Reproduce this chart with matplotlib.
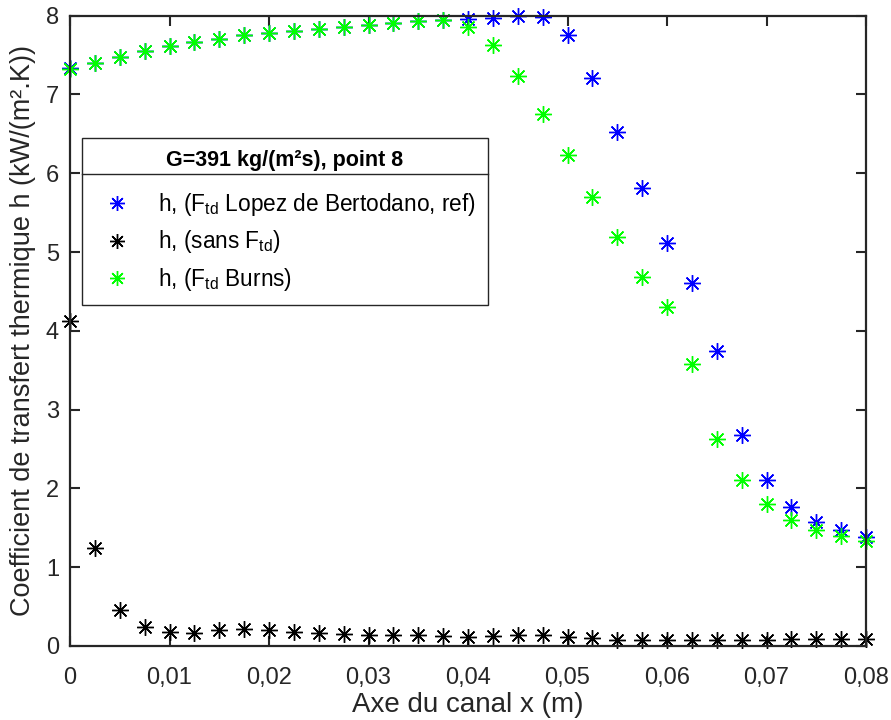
import matplotlib

matplotlib.use("Agg")

import matplotlib.pyplot as plt
from matplotlib.lines import Line2D
from matplotlib.ticker import FuncFormatter

# axial positions along the channel (m)
x = [0.0025 * i for i in range(33)]

# h with F_td Lopez de Bertodano (reference)
h_lopez = [7.33, 7.40, 7.48, 7.55, 7.61, 7.67, 7.71, 7.75, 7.78, 7.81, 7.83,
           7.86, 7.88, 7.91, 7.93, 7.94, 7.96, 7.97, 7.99, 7.98, 7.75, 7.21,
           6.52, 5.81, 5.11, 4.61, 3.74, 2.68, 2.11, 1.77, 1.57, 1.47, 1.38]
# h without F_td
h_sans = [4.12, 1.24, 0.46, 0.24, 0.18, 0.16, 0.20, 0.22, 0.20, 0.18, 0.17,
          0.15, 0.14, 0.14, 0.14, 0.13, 0.12, 0.13, 0.14, 0.14, 0.12, 0.10,
          0.08, 0.08, 0.08, 0.08, 0.08, 0.08, 0.08, 0.09, 0.09, 0.09, 0.09]
# h with F_td Burns
h_burns = [7.32, 7.40, 7.48, 7.55, 7.61, 7.67, 7.71, 7.75, 7.78, 7.81, 7.83,
           7.86, 7.88, 7.91, 7.93, 7.94, 7.86, 7.63, 7.23, 6.75, 6.23, 5.70,
           5.19, 4.68, 4.30, 3.58, 2.63, 2.11, 1.80, 1.60, 1.47, 1.40, 1.33]

xticks = [0, 0.01, 0.02, 0.03, 0.04, 0.05, 0.06, 0.07, 0.08]
yticks = [0, 1, 2, 3, 4, 5, 6, 7, 8]

legend_title = "G=391 kg/(m²s), point 8"
labels = ["h, (F$_{\\mathrm{td}}$ Lopez de Bertodano, ref)",
          "h, (sans F$_{\\mathrm{td}}$)",
          "h, (F$_{\\mathrm{td}}$ Burns)"]

plt.rcParams.update({
    "font.family": "Liberation Sans",
    "mathtext.fontset": "custom",
    "mathtext.rm": "Liberation Sans",
    "mathtext.it": "Liberation Sans:italic",
    "mathtext.bf": "Liberation Sans:bold",
})

INK = "#262626"
STAR = (8, 2, 0)

fig = plt.figure(figsize=(8.91, 7.2), dpi=100)
ax = fig.add_axes([70 / 891, 1 - 646 / 720, 796 / 891, (646 - 15.7) / 720])

kw = dict(ls="none", marker=STAR, ms=12, mew=1.0, clip_on=False)
ax.plot(x, h_lopez, color="#0000ff", label=labels[0], **kw)
ax.plot(x, h_sans, color="#000000", label=labels[1], **kw)
ax.plot(x, h_burns, color="#00ff00", label=labels[2], **kw)

ax.set_xlim(0, 0.08)
ax.set_ylim(0, 8)
ax.set_xticks(xticks)
ax.set_yticks(yticks)
ax.xaxis.set_major_formatter(FuncFormatter(lambda v, p: "0" if v == 0 else f"{v:.2f}".replace(".", ",")))
ax.tick_params(direction="in", length=7, width=1.5, color=INK, top=True, right=True,
               labelsize=17, labelcolor=INK)
ax.tick_params(axis="x", pad=15)
ax.tick_params(axis="y", pad=8)
for s in ax.spines.values():
    s.set_linewidth(1.6)
    s.set_color(INK)

ax.set_xlabel("Axe du canal x (m)", fontsize=20, color=INK, labelpad=2)
ax.set_ylabel("Coefficient de transfert thermique h (kW/(m².K))", fontsize=19.5,
              color=INK, labelpad=7)

leg = ax.legend(loc="upper left", bbox_to_anchor=(0.015, 0.806), borderaxespad=0,
                fancybox=False, framealpha=1, edgecolor=INK, fontsize=16.25,
                title=legend_title, title_fontproperties={"weight": "bold", "size": 15.5},
                handlelength=2.0, handletextpad=0.8, borderpad=0.55, labelspacing=0.45,
                markerscale=0.9)
leg.get_frame().set_linewidth(1.0)
# extra room between the title row and the entries
leg._legend_box.sep = leg._legend_box.sep + 7

fig.canvas.draw()
fb = leg.get_frame().get_window_extent()
tb = leg.get_title().get_window_extent()
ysep = tb.y0 - 3
fig.add_artist(Line2D([fb.x0, fb.x1], [ysep, ysep], transform=None, color=INK, lw=1.0))

fig.savefig("out.png", dpi=100)
